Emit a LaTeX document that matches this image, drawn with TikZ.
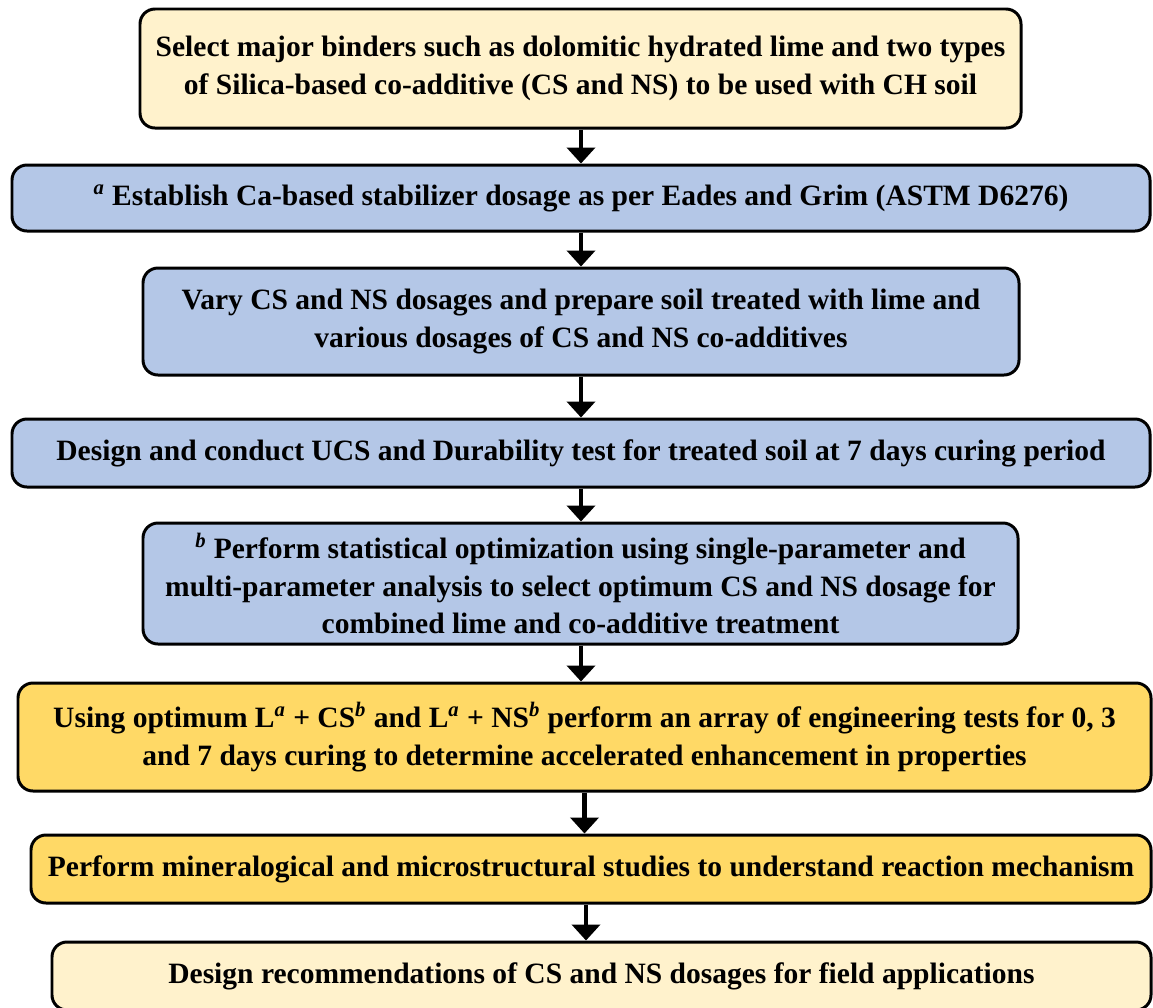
\documentclass[tikz,border=0pt]{standalone}
\usepackage{fontspec}
\setmainfont{Liberation Serif}
\usetikzlibrary{arrows.meta}
\definecolor{creambox}{HTML}{FFF2CC}
\definecolor{bluebox}{HTML}{B4C7E7}
\definecolor{goldbox}{HTML}{FFD966}
\begin{document}
\begin{tikzpicture}[
    stepnode/.style={draw=black,line width=1.7pt,rounded corners=0.3cm,align=center,
      inner sep=0pt,font=\bfseries\fontsize{16.8}{21.3}\selectfont},
    flow/.style={line width=2.4pt,-{Triangle[width=0.56cm,length=0.32cm]}}
  ]
      \useasboundingbox (0,0) rectangle (23.06,-20.14);
      \node (select) at (11.61,-1.37) [stepnode,fill=creambox,minimum width=17.62cm,minimum height=2.38cm]
        {Select major binders such as dolomitic hydrated lime and two types\\
         of Silica-based co-additive (CS and NS) to be used with CH soil};
      \node (dosage) at (11.62,-3.96) [stepnode,fill=bluebox,minimum width=22.76cm,minimum height=1.32cm]
        {\textsuperscript{\textit{a}} Establish Ca-based stabilizer dosage as per Eades and Grim (ASTM D6276)};
      \node (vary) at (11.62,-6.43) [stepnode,fill=bluebox,minimum width=17.52cm,minimum height=2.14cm]
        {Vary CS and NS dosages and prepare soil treated with lime and\\
         various dosages of CS and NS co-additives};
      \node (ucs) at (11.62,-9.06) [stepnode,fill=bluebox,minimum width=22.76cm,minimum height=1.36cm]
        {Design and conduct UCS and Durability test for treated soil at 7 days curing period};
      \node (optim) at (11.61,-11.67) [stepnode,fill=bluebox,minimum width=17.5cm,minimum height=2.42cm]
        {\textsuperscript{\textit{b}} Perform statistical optimization using single-parameter and\\
         multi-parameter analysis to select optimum CS and NS dosage for\\
         combined lime and co-additive treatment};
      \node (tests) at (11.69,-14.74) [stepnode,fill=goldbox,minimum width=22.66cm,minimum height=2.16cm]
        {Using optimum L\textsuperscript{\textit{a}} + CS\textsuperscript{\textit{b}} and
         L\textsuperscript{\textit{a}} + NS\textsuperscript{\textit{b}} perform an array of engineering tests for 0, 3\\
         and 7 days curing to determine accelerated enhancement in properties};
      \node (micro) at (11.82,-17.38) [stepnode,fill=goldbox,minimum width=22.4cm,minimum height=1.36cm]
        {Perform mineralogical and microstructural studies to understand reaction mechanism};
      \node (field) at (12.03,-19.52) [stepnode,fill=creambox,minimum width=21.98cm,minimum height=1.36cm]
        {Design recommendations of CS and NS dosages for field applications};
      \coordinate (axis) at (11.62,0);
      \draw[flow] (axis |- select.south) -- (axis |- dosage.north);
      \draw[flow] (axis |- dosage.south) -- (axis |- vary.north);
      \draw[flow] (axis |- vary.south) -- (axis |- ucs.north);
      \draw[flow] (axis |- ucs.south) -- (axis |- optim.north);
      \draw[flow] (axis |- optim.south) -- (axis |- tests.north);
      \draw[flow] (11.69,0 |- tests.south) -- (11.69,0 |- micro.north);
      \draw[flow] (11.72,0 |- micro.south) -- (11.72,0 |- field.north);
\end{tikzpicture}
\end{document}
